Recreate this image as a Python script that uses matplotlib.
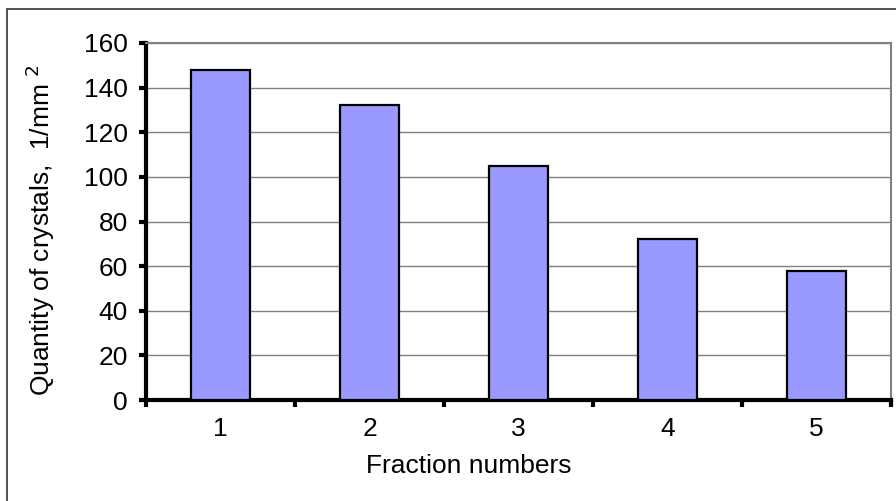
import matplotlib
matplotlib.use("Agg")
import matplotlib.pyplot as plt
from matplotlib.patches import Rectangle

plt.rcParams['font.family'] = ['Liberation Sans', 'DejaVu Sans']

fractions = [1, 2, 3, 4, 5]
quantity = [148, 132, 105, 72, 58]
y_ticks = [0, 20, 40, 60, 80, 100, 120, 140, 160]

fig = plt.figure(figsize=(8.96, 5.01), dpi=100)

# outer chart frame (runs off the right/bottom edge)
fig.patches.append(Rectangle((7 / 896, -0.05), 1.0, 1 - 9 / 501 + 0.05,
                             transform=fig.transFigure, fill=False,
                             edgecolor="#333333", linewidth=1.2))

ax = fig.add_axes([146 / 896, 101 / 501, 745 / 896, 357 / 501])

ax.bar(fractions, quantity, width=0.4, color="#9999FF", edgecolor="black",
       linewidth=1.6, zorder=3)

ax.set_xlim(0.5, 5.5)
ax.set_ylim(0, 160)
ax.set_yticks(y_ticks)
ax.set_xticks(fractions)
ax.set_xticks([0.5, 1.5, 2.5, 3.5, 4.5, 5.5], minor=True)
ax.tick_params(axis="x", which="major", length=0, pad=12, labelsize=19)
ax.tick_params(axis="x", which="minor", length=5, width=3, direction="out")
ax.tick_params(axis="y", length=5, width=3, direction="out", pad=8, labelsize=19)

ax.yaxis.grid(True, color="#808080", linewidth=1.0, zorder=0)

ax.spines["left"].set_linewidth(3)
ax.spines["bottom"].set_linewidth(3)
ax.spines["top"].set_color("#808080")
ax.spines["right"].set_color("#808080")
ax.spines["top"].set_linewidth(1.5)
ax.spines["right"].set_linewidth(1.5)

ax.set_xlabel("Fraction numbers", fontsize=19)
ax.xaxis.set_label_coords(0.4336, -0.152)
ax.set_ylabel("Quantity of crystals,  1/mm $^2$", fontsize=19)
ax.yaxis.set_label_coords(-0.12, 0.476)

fig.savefig("out.png", dpi=100)
